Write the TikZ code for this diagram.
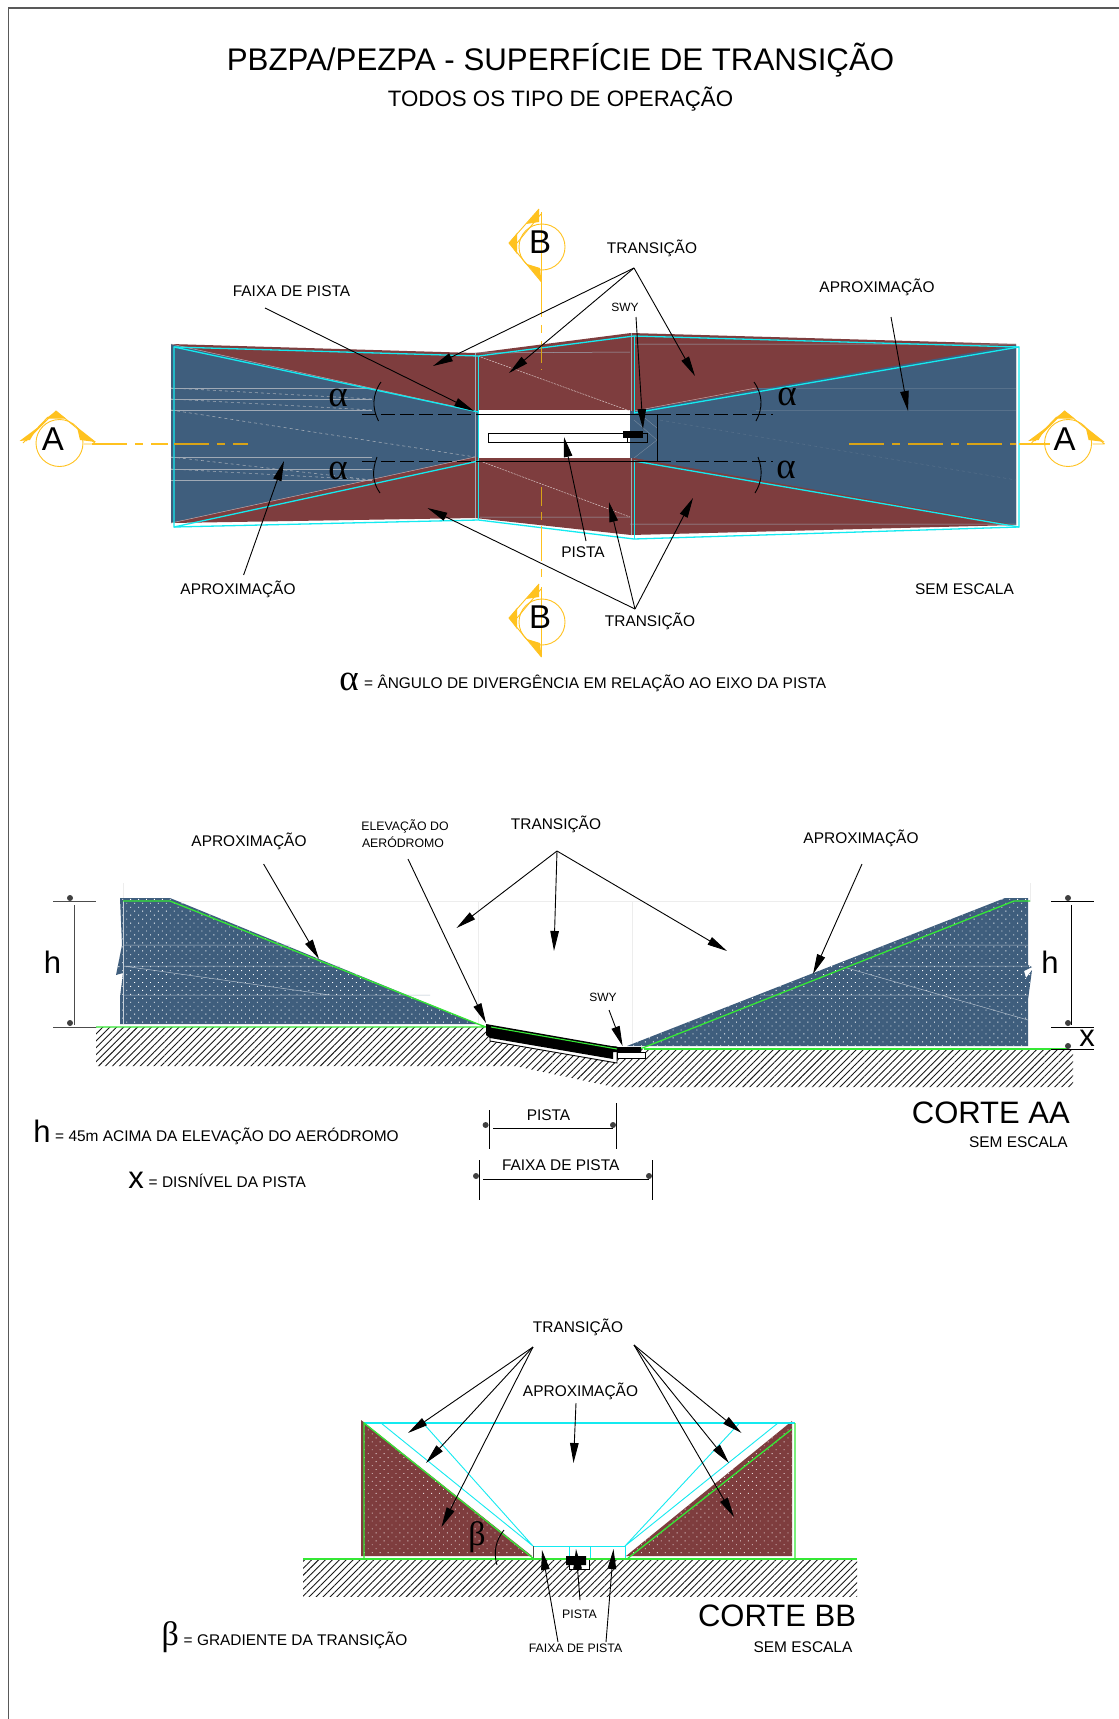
\documentclass[tikz,border=0pt]{standalone}
\usepackage{fontspec}
\setmainfont{Liberation Sans}
\newfontfamily\greekser{Liberation Serif}
\usetikzlibrary{arrows.meta,patterns.meta}
\definecolor{bluefill}{HTML}{3F5E7D}
\definecolor{brownfill}{HTML}{7E3D3E}
\definecolor{cyanline}{HTML}{14EAF0}
\definecolor{goldl}{HTML}{FFC21F}
\definecolor{goldd}{HTML}{D8A317}
\definecolor{greenl}{HTML}{35E835}
\definecolor{faint}{HTML}{9FA9B5}
\newcommand{\fs}[1]{\fontsize{#1}{#1}\selectfont}
\tikzset{
  lbl/.style={inner sep=0pt,font=\fs{15.45}},
  smalllbl/.style={inner sep=0pt,font=\fs{12.3}},
  biglbl/.style={inner sep=0pt,font=\fs{31}},
  symb/.style={inner sep=0pt,font=\fs{31}},
  secl/.style={inner sep=0pt,font=\fs{33}},
  grk/.style={inner sep=0pt,font=\greekser\fs{37}},
  grkb/.style={inner sep=0pt,font=\greekser\fs{34}},
  lead/.style={black,line width=.9pt,-{Triangle[length=20pt,width=8.5pt]},shorten >=0pt},
  thinb/.style={black,line width=.9pt},
  cy/.style={cyanline,line width=1.3pt},
  cyt/.style={cyanline,line width=.9pt},
  grn/.style={greenl,line width=1.3pt},
  fnt/.style={faint,line width=.6pt},
  pinkd/.style={draw=white!70!brownfill,line width=.5pt,dash pattern=on 2pt off 1pt},
  ctr/.style={line width=1.1pt,dash pattern=on 35pt off 8pt on 8pt off 8pt},
  gy/.style={black!70,line width=.9pt},
  dimdot/.style={fill=black!75,draw=none},
  hatch/.style={pattern={Lines[angle=45,distance=4.9pt,line width=.9pt]},pattern color=black!90},
  stipple/.style={postaction={pattern={Dots[angle=45,distance=5.6pt,radius=.65pt]},pattern color=white}},
  stippleb/.style={postaction={pattern={Dots[angle=45,distance=5.6pt,radius=.65pt]},pattern color=white!80!brownfill}},
  faintg/.style={black!7,line width=.6pt},
}
\newcommand{\arw}[3]{\coordinate (#1-a) at (#2);\coordinate (#1-b) at (#3);\draw[lead] (#1-a) -- (#1-b);}
\newcommand{\dimdt}[1]{\fill[dimdot] (#1) circle (3pt);}
\begin{document}
\begin{tikzpicture}[x=1pt,y=-1pt]
\useasboundingbox (0,0) rectangle (1119,1719);
\fill[white] (0,0) rectangle (1119,1719);
\draw[black!65,line width=1.4pt] (8.5,1719) -- (8.5,8) -- (1119,8);
\node[inner sep=0pt,font=\fs{31.25}] (title) at (560.5,60.5) {PBZPA/PEZPA - SUPERFÍCIE DE TRANSIÇÃO};
\node[inner sep=0pt,font=\fs{22.3}] (subtitle) at (560.5,99) {TODOS OS TIPO DE OPERAÇÃO};
%% ---- PLAN ----
\fill[brownfill] (171,344) -- (475,353) -- (631,333) -- (1016,344) -- (1016,525) -- (631,535) -- (475,518) -- (171,523) -- cycle;
\fill[white] (478,410) rectangle (630,458);
\fill[bluefill] (171,344) -- (475,411) -- (478,411) -- (478,457) -- (475,457) -- (171,523) -- cycle;
\fill[bluefill] (1016,345) -- (634,411) -- (630,411) -- (630,458) -- (634,458) -- (1016,525) -- cycle;
% faint lines
\foreach \yy in {388,399,410,457,469,480} {\draw[fnt] (171,\yy) -- (372,\yy);}
\draw[fnt,dashed] (171,410) -- (475,457);
\draw[fnt,dashed] (171,388) -- (372,399);\draw[fnt,dashed] (171,399) -- (372,410);
\draw[fnt,dashed] (171,457) -- (372,480);\draw[fnt,dashed] (171,469) -- (372,480);
\draw[faint!25!bluefill,line width=.4pt] (756,388) -- (1016,388) (756,410) -- (1016,410);
\draw[faint!30!bluefill,dashed,line width=.4pt] (660,420) -- (1016,480);
\draw[faint!60!bluefill,line width=.4pt] (634,420) -- (657,440) -- (634,458) (640,414) -- (657,428);
\draw[faint,line width=.6pt] (475,353) -- (475,518);
\draw[faint,line width=.6pt] (631,333) -- (631,411) (631,458) -- (631,535);
\draw[faint,line width=.5pt] (475,353) -- (630,352) (634,344) -- (1016,344) (480,517) -- (630,517) (630,524) -- (1016,524);
\draw[pinkd] (478,356) -- (630,411) (480,461) -- (630,517);
\draw[white!55!brownfill,line width=.5pt] (171,344) -- (475,411) (171,523) -- (475,457) (634,411) -- (756,388);
% cyan outlines
\draw[cy] (174,347) -- (478.5,356) -- (634,336) -- (1019,347) -- (1019,527) -- (634,539) -- (478.5,520) -- (174,527) -- cycle;
\draw[cy] (174,347) -- (478.5,412) (174,527) -- (478.5,461) (1019,347) -- (634,413) (1019,527) -- (634,461);
\draw[cyt] (478.5,356) -- (478.5,520) (634,336) -- (634,413) (634,461) -- (634,539);
% runway
\draw[thinb] (488,433) rectangle (647,442);
\fill[black] (623,431) rectangle (643,438);
\draw[thinb] (627,438) -- (627,442);
\draw[thinb] (478,414) -- (657,414) -- (657,461) -- (478,461);
\draw[thinb,dash pattern=on 14pt off 5pt] (362,414) -- (478,414) (362,461) -- (478,461) (657,414) -- (773,414) (657,461) -- (773,461);
\draw[thinb] (381,382) .. controls (372,395) and (372,408) .. (378.5,421);
\draw[thinb] (377,457) .. controls (372,470) and (372,482) .. (380,493);
\draw[thinb] (754,382) .. controls (763,395) and (763,408) .. (756,421);
\draw[thinb] (758,457) .. controls (763,470) and (762,482) .. (755,493);
\node[grk] (a1) at (338,397.5) {α};
\node[grk] (a2) at (338,470.5) {α};
\node[grk] (a3) at (787,396.5) {α};
\node[grk] (a4) at (786,469.5) {α};
% centre lines
\draw[ctr,goldl] (92,444) -- (168,444);
\draw[ctr,goldd] (174,444) -- (248,444);
\draw[ctr,goldd] (849,444) -- (1016,444);
\draw[ctr,goldl] (1019,444) -- (1050,444);
\draw[ctr,goldl] (541.5,282) -- (541.5,343);
\draw[goldd,line width=1.1pt,dash pattern=on 20pt off 6pt] (541.5,343) -- (541.5,370);
\draw[goldd,line width=1.1pt] (541.5,487) -- (541.5,506) (541.5,512) -- (541.5,520);
\draw[ctr,goldl] (541.5,526) -- (541.5,582);
% section marks A
\foreach \sx in {0,1008.6} {
\begin{scope}[shift={(\sx,0)}]
 \draw[goldl,line width=.9pt] (59.5,443) circle (23.5);
 \draw[goldl,line width=.9pt] (23,443) -- (48,417) (26,441) -- (56,411) -- (96,444) (84,444) -- (96,444);
 \fill[goldl] (56,411) -- (46,418.5) -- (66,418.5) -- cycle;
 \fill[goldl] (19.5,441) -- (37,428) -- (30,440) -- cycle;
 \fill[goldl] (77,427) -- (96,442) -- (80,440) -- cycle;
\end{scope}}
\node[secl] (secA1) at (53,439) {A};
\node[secl] (secA2) at (1064.5,439) {A};
% section marks B
\foreach \sy in {0,375} {
\begin{scope}[shift={(0,\sy)}]
 \draw[goldl,line width=.9pt] (542,247) circle (23);
 \draw[goldl,line width=1.1pt] (541.5,212) -- (541.5,282);
 \draw[goldl,line width=.9pt] (539,209) -- (509,243) -- (541.5,282) (541,214) -- (517,243);
 \fill[goldl] (509,243) -- (517,233) -- (517,254) -- cycle;
 \fill[goldl] (539,209) -- (526,224) -- (539,222) -- cycle;
 \fill[goldl] (541.5,282) -- (527,264) -- (540,268) -- cycle;
\end{scope}}
\node[secl] (secB1) at (540,242) {B};
\node[secl] (secB2) at (540,617) {B};
% labels
\node[lbl] (trTop) at (652,248.5) {TRANSIÇÃO};
\node[lbl] (fxTop) at (291.5,291) {FAIXA DE PISTA};
\node[inner sep=0pt,font=\fs{12}] (swyTop) at (625,307) {SWY};
\node[lbl] (apR) at (877,287) {APROXIMAÇÃO};
\node[lbl] (apL) at (238,589) {APROXIMAÇÃO};
\node[lbl] (sem1) at (964.5,589) {SEM ESCALA};
\node[lbl] (trBot) at (650,621) {TRANSIÇÃO};
\node[lbl] (piTop) at (583,552) {PISTA};
\node[grk,anchor=east] (alphaL) at (359,681.5) {α};
\node[lbl,anchor=west] (alphaT) at (364,683) {= ÂNGULO DE DIVERGÊNCIA EM RELAÇÃO AO EIXO DA PISTA};
% arrows
\arw{p1}{265,308}{474,411}
\arw{p2}{634,268}{433,366}
\arw{p3}{634,268}{509,373}
\arw{p4}{634,268}{695,376}
\arw{p5}{636,317}{643,429}
\arw{p6}{891,317}{908,411}
\arw{p7}{243.6,575}{284,461}
\arw{p8}{635,609}{427.5,508}
\arw{p9}{635,609}{609,502}
\arw{p10}{635,609}{693,498}
\arw{p11}{586,541}{564,437}
%% ---- SECTION AA ----
\path[hatch] (96,1027) -- (486,1027) -- (486,1035) -- (617,1049) -- (1073,1049) -- (1073,1087) -- (614,1087) -- (515,1066) -- (96,1066) -- cycle;
\draw[faintg] (123,883) -- (123,901) -- (1030,901) -- (1030,883) (478,901) -- (478,1024) (632,901) -- (632,1046);
\path[fill=bluefill,stipple] (120,898) -- (170,898) -- (478,1024) -- (120,1024) -- (120,997) -- (123,973) -- (116,975) -- (122,945) -- cycle;
\draw[white!70!bluefill,line width=.8pt] (123,901) -- (123,1024);
\draw[white!60!bluefill,line width=.5pt] (123,945) -- (290,945) (123,966) -- (340,966) (123,995) -- (430,995) (123,966) -- (330,995);
\path[fill=bluefill,stipple] (627,1046) -- (1005,898) -- (1028,898) -- (1028,965) -- (1032,967) -- (1024,971) -- (1026,978) -- (1032,970) -- (1028,1000) -- (1028,1046) -- cycle;
\draw[white!60!bluefill,line width=.5pt] (920,945) -- (1028,945) (870,966) -- (1028,966) (760,995) -- (1028,995) (840,966) -- (1028,1020);
\draw[grn] (123,901) -- (170,901) -- (478,1024) -- (486,1027) -- (96,1027);
\draw[grn] (644,1049) -- (1068,1049);
\draw[grn] (640,1049) -- (1014,901) -- (1030,901);
% runway section
\draw[thinb,fill=white] (490,1037) -- (490,1041) -- (617,1063) -- (617,1047) -- cycle;
\draw[thinb,fill=white] (617,1052) rectangle (645,1058);
\fill[black] (486,1024) -- (617,1047) -- (641,1047) -- (641,1052) -- (613,1052) -- (613,1059) -- (490,1038) -- (486,1035) -- cycle;
\draw[greenl,line width=1.1pt] (491,1027) -- (617,1049);
% dims
\draw[gy] (53,901) -- (96,901) (53,1027) -- (96,1027) (74,905) -- (74,1025);
\dimdt{70,898}\dimdt{70,1023}
\draw[thinb] (1051,901) -- (1094,901) (1051,1027) -- (1094,1027) (1051,1049) -- (1094,1049) (1071.5,905) -- (1071.5,1025);
\dimdt{1068,898}\dimdt{1068,1023}\dimdt{1068,1046}
\node[symb] (hL) at (52.5,962) {h};
\node[symb] (hR) at (1050,962) {h};
\node[symb] (xR) at (1087,1038) {x};
\node[lbl] (ap2L) at (249,841.5) {APROXIMAÇÃO};
\node[lbl] (ap2R) at (861,838.5) {APROXIMAÇÃO};
\node[lbl] (tr2) at (556,824) {TRANSIÇÃO};
\node[smalllbl] (ele1) at (405,826) {ELEVAÇÃO DO};
\node[smalllbl] (ele2) at (403,842) {AERÓDROMO};
\node[inner sep=0pt,font=\fs{12}] (swy2) at (603,997) {SWY};
\arw{s1}{263.6,864}{319,959}
\arw{s2}{408,859}{486,1023}
\arw{s3}{557,851}{456.5,928}
\arw{s4}{557,851}{554,951}
\arw{s5}{557,851}{727,951}
\arw{s6}{862,864}{813,974}
\arw{s7}{609,1010}{622.6,1046}
% dims below
\draw[thinb] (489,1110) -- (489,1149) (616.5,1103) -- (616.5,1149) (493,1128) -- (613,1128);
\dimdt{485.6,1125}\dimdt{613,1125}
\draw[thinb] (479.6,1160) -- (479.6,1200) (652.5,1160) -- (652.5,1200) (483,1179) -- (649,1179);
\dimdt{476,1176}\dimdt{649,1176}
\node[lbl] (pi2) at (548.5,1115) {PISTA};
\node[lbl] (fx2) at (560.7,1165) {FAIXA DE PISTA};
\node[biglbl,anchor=east] (corteA) at (1070,1113) {CORTE AA};
\node[lbl,anchor=east] (sem2) at (1068,1142) {SEM ESCALA};
\node[symb] (hLeg) at (42,1131) {h};
\node[lbl,anchor=west] (hLegT) at (55,1136) {= 45m ACIMA DA ELEVAÇÃO DO AERÓDROMO};
\node[symb] (xLeg) at (136,1180) {x};
\node[lbl,anchor=west] (xLegT) at (148.5,1181) {= DISNÍVEL DA PISTA};
%% ---- SECTION BB ----
\path[hatch] (303,1559) rectangle (857,1596);
\path[fill=brownfill,stippleb] (361,1420) -- (532,1556) -- (361,1556) -- cycle;
\path[fill=brownfill,stippleb] (626,1556) -- (792,1421) -- (792,1556) -- cycle;
\draw[cy] (364,1423) -- (795,1423);
\draw[cyt] (381,1423) -- (533,1546) (423,1423) -- (533,1546) (739.5,1423) -- (625,1546) (778,1423) -- (625,1546);
\draw[cyt] (533,1546) -- (625,1546) (569,1546) -- (569,1559) (590,1546) -- (590,1559) (625,1546) -- (625,1559);
\draw[gy] (533,1546) -- (533,1559);
\draw[grn] (364,1559) -- (364,1423) -- (534,1559) (795,1423) -- (795,1559) (627,1559) -- (792,1429);
\draw[thinb,fill=white] (569,1559) rectangle (589,1569);
\draw[grn] (303,1559) -- (857,1559);
\fill[black] (566,1556) rectangle (586,1565) (575,1565) rectangle (581,1569);
\draw[thinb] (497,1565) .. controls (493,1552) and (496,1540) .. (504,1530);
\node[grkb] (beta) at (477,1537) {β};
\node[lbl] (tr3) at (578,1327.5) {TRANSIÇÃO};
\node[lbl] (ap3) at (580.5,1391.5) {APROXIMAÇÃO};
\node[smalllbl] (pi3) at (579.5,1614.5) {PISTA};
\node[smalllbl] (fx3) at (575.5,1648.5) {FAIXA DE PISTA};
\node[biglbl] (corteB) at (777,1615.5) {CORTE BB};
\node[lbl] (sem3) at (803,1647) {SEM ESCALA};
\node[grkb,anchor=east] (betaLeg) at (179,1637) {β};
\node[lbl,anchor=west] (betaT) at (183.5,1640.5) {= GRADIENTE DA TRANSIÇÃO};
\arw{b1}{533,1347}{408,1433}
\arw{b2}{533,1347}{426,1463}
\arw{b3}{533,1347}{441.5,1527}
\arw{b4}{634,1345}{741.5,1433}
\arw{b5}{634,1345}{729,1463}
\arw{b6}{634,1345}{734,1517}
\arw{b7}{576,1403}{573.5,1463}
\arw{b8}{580,1600}{576,1549}
\arw{b9}{558,1642}{542,1550}
\arw{b10}{606,1642}{613.5,1549}
\end{tikzpicture}
\end{document}
